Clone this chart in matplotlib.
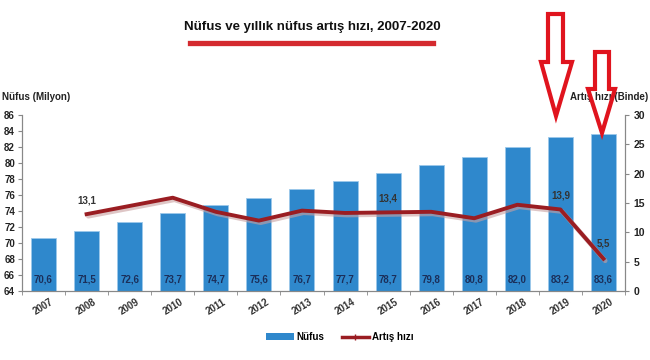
import matplotlib
matplotlib.use("Agg")
import matplotlib.pyplot as plt
from matplotlib.patches import Polygon
from matplotlib.lines import Line2D
from matplotlib.patches import Patch
import numpy as np

plt.rcParams['font.family'] = ['Liberation Sans', 'DejaVu Sans']

years = ["2007", "2008", "2009", "2010", "2011", "2012", "2013", "2014",
         "2015", "2016", "2017", "2018", "2019", "2020"]
population = [70.6, 71.5, 72.6, 73.7, 74.7, 75.6, 76.7, 77.7, 78.7, 79.8,
              80.8, 82.0, 83.2, 83.6]
growth_years = years[1:]
growth = [13.1, 14.5, 15.9, 13.5, 12.0, 13.7, 13.3, 13.4, 13.5, 12.4, 14.7, 13.9, 5.5]
growth_labelled = {"2008": "13,1", "2015": "13,4", "2019": "13,9", "2020": "5,5"}

W, H = 650, 360
fig = plt.figure(figsize=(W / 100, H / 100), dpi=100)
ax = fig.add_axes([22 / W, 1 - 291 / H, (625 - 22) / W, (291 - 115) / H])
ax2 = ax.twinx()

x = np.arange(len(years))
bar_color = "#2F88CC"
ax.bar(x, [p - 64 for p in population], bottom=64, width=0.58, color=bar_color,
       edgecolor="#9CC8EA", linewidth=0.6, zorder=2)
for xi, p in zip(x, population):
    ax.annotate(f"{p:.1f}".replace(".", ","), (xi, 64), xytext=(0, 8),
                textcoords="offset points", ha="center", va="center",
                fontsize=7, fontweight="bold", color="#1B2F5A", zorder=3)

ax.set_ylim(64, 86)
ax.set_yticks(np.arange(64, 87, 2))
ax.set_xlim(-0.5, len(years) - 0.5)
ax.set_xticks(x)
ax.set_xticklabels(years, rotation=32, fontsize=7, fontweight="bold", color="#333333")
ax.tick_params(axis="x", length=0, pad=4)
ax.set_xticks(np.arange(-0.5, len(years), 1), minor=True)
ax.tick_params(axis="x", which="minor", length=3, color="#888888")
ax.tick_params(axis="y", labelsize=7, length=3, color="#888888", labelcolor="#222222", pad=2)
for lbl in ax.get_yticklabels():
    lbl.set_fontweight("bold")

gx = [years.index(y) for y in growth_years]
ax2.plot(np.array(gx) + 0.04, np.array(growth) - 0.35, color="#C9A0A0", lw=3.4,
         alpha=0.6, zorder=3, solid_capstyle="round")
ax2.plot(gx, growth, color="#9A1D22", lw=2.8, zorder=4, solid_joinstyle="round")
for yr, txt in growth_labelled.items():
    i = years.index(yr)
    v = growth[growth_years.index(yr)]
    ax2.annotate(txt, (i, v), xytext=(0, 10 if yr != "2020" else 11),
                 textcoords="offset points", ha="center", va="center",
                 fontsize=7, fontweight="bold", color="#333333")
ax2.set_ylim(0, 30)
ax2.set_yticks(np.arange(0, 31, 5))
ax2.tick_params(axis="y", labelsize=7.5, length=3, color="#888888", labelcolor="#222222", pad=3)
for lbl in ax2.get_yticklabels():
    lbl.set_fontweight("bold")

for a in (ax, ax2):
    a.spines["top"].set_visible(False)
    for s in ("left", "right", "bottom"):
        a.spines[s].set_color("#888888")
        a.spines[s].set_linewidth(0.8)
ax.set_zorder(1)
ax2.set_zorder(2)
ax.patch.set_visible(False)

fig.text(2 / W, 1 - 97 / H, "Nüfus (Milyon)", fontsize=7, fontweight="bold",
         color="#222222", ha="left", va="center")
fig.text(648 / W, 1 - 97 / H, "Artış hızı (Binde)", fontsize=7, fontweight="bold",
         color="#222222", ha="right", va="center")

fig.text(312 / W, 1 - 27 / H, "Nüfus ve yıllık nüfus artış hızı, 2007-2020",
         fontsize=9.5, fontweight="bold", color="#111111", ha="center", va="center")
fig.add_artist(Line2D([190 / W, 433 / W], [1 - 43 / H, 1 - 43 / H],
                      color="#D42A2F", lw=3.8, transform=fig.transFigure))

handles = [Patch(facecolor=bar_color, edgecolor="none"),
           Line2D([0], [0], color="#9A1D22", lw=2.5, marker="|", markersize=4)]
fig.legend(handles, ["Nüfus", "Artış hızı"], loc="center",
           bbox_to_anchor=(340 / W, 1 - 337 / H), ncol=2, frameon=False,
           prop={"size": 7, "weight": "bold"}, handlelength=2.8, handleheight=0.6,
           columnspacing=1.8, handletextpad=0.3)

def arrow(x0, x1, top, neck, hx0, hx1, tip_x, tip_y):
    pts = [(x0, top), (x1, top), (x1, neck), (hx1, neck), (tip_x, tip_y),
           (hx0, neck), (x0, neck)]
    pts = [(px / W, 1 - py / H) for px, py in pts]
    fig.add_artist(Polygon(pts, closed=True, fill=False, edgecolor="#E0141E",
                           linewidth=3.0, transform=fig.transFigure, zorder=10,
                           joinstyle="miter"))

arrow(548, 563, 14, 62, 541, 572, 556, 116)
arrow(595, 609, 52, 89, 588, 615, 602, 133)

fig.savefig("out.png", dpi=100, facecolor="white")
